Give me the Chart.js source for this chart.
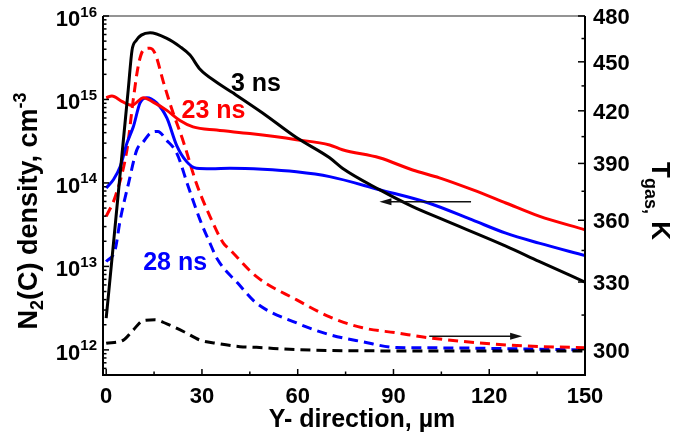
<!DOCTYPE html>
<html>
<head>
<meta charset="utf-8">
<script src="https://cdn.jsdelivr.net/npm/chart.js@4.4.1/dist/chart.umd.min.js"></script>
<style>
  html, body { margin: 0; padding: 0; background: #fff; }
  #wrap { position: relative; width: 688px; height: 443px; }
</style>
</head>
<body>
<div id="wrap"><canvas id="chart_n2c_tgas"></canvas></div>
<script>
// Y- direction, um  /  N2(C) density, cm-3 (solid)
var x3ns = [0, 2.5, 5, 6.9, 8.1, 9.4, 11, 13.75, 19, 23.1, 26.25, 29.4, 34.7, 39.7, 49, 59.6, 70, 74, 85.6, 96, 105, 125.2, 135.6, 150];
var n3ns = [2.4e12, 2.3e13, 2.3e14, 1.3e15, 3.9e15, 5.1e15, 5.9e15, 6.3e15, 5.4e15, 4.3e15, 3.4e15, 2.3e15, 1.6e15, 1.2e15, 6.9e14, 3.5e14, 2.0e14, 1.5e14, 8.3e13, 5.2e13, 3.7e13, 1.75e13, 1.15e13, 6.5e12];

var x23ns = [0, 1.8, 4.9, 8, 11.7, 14.7, 19, 23.1, 27.2, 34.6, 45, 59.6, 70, 74, 85.6, 96, 104.4, 114.7, 125.2, 135.6, 150];
var n23ns = [1.05e15, 1.1e15, 9.5e14, 8.5e14, 1.05e15, 9.3e14, 7.4e14, 5.6e14, 4.7e14, 4.3e14, 3.9e14, 3.3e14, 2.85e14, 2.5e14, 2.0e14, 1.43e14, 1.15e14, 8.3e13, 5.75e13, 4.0e13, 2.75e13];

var x28ns = [0, 2.3, 4.4, 6.5, 8.5, 10.6, 12.7, 15.8, 19, 22.1, 25.2, 28.3, 33, 38.75, 49, 59.6, 70, 85.6, 101, 114.7, 125.2, 135.6, 150];
var n28ns = [8.7e13, 1.1e14, 1.57e14, 3.0e14, 4.7e14, 9.1e14, 1.05e15, 9.1e14, 6.0e14, 2.8e14, 1.8e14, 1.5e14, 1.48e14, 1.5e14, 1.46e14, 1.36e14, 1.19e14, 8.3e13, 5.75e13, 3.6e13, 2.5e13, 1.9e13, 1.35e13];

// Tgas, K (dashed)
var xT3ns = [0, 5.4, 8.5, 11.65, 15.3, 19, 24.2, 29.4, 34.6, 41.9, 47.1, 59.7, 91, 150];
var t3ns = [302.7, 304.1, 308.5, 312.6, 312.9, 311.1, 307.8, 304.1, 302.7, 301.3, 301, 300, 299.5, 299.5];

var xT23ns = [0, 2.8, 6.5, 8.5, 10.1, 11.65, 13.75, 15.3, 17.9, 20.5, 24.2, 28.3, 32.5, 36.7, 38.75, 47.1, 59.7, 70, 80.3, 91, 101, 125.3, 150];
var t23ns = [362, 372, 397.5, 427, 448, 457.5, 458.7, 455.4, 437.5, 421.4, 402, 379, 362, 348.6, 345.4, 332.5, 321.8, 314.2, 309.4, 307.2, 305.1, 302, 300.8];

var xT28ns = [0, 2.8, 4.4, 7.0, 9.6, 11.65, 13.75, 16.2, 18.9, 22.1, 25.7, 29.4, 32.5, 34.9, 41.2, 47.1, 59.7, 70, 80.3, 91, 101, 150];
var t28ns = [339.6, 345.4, 360.2, 379.2, 397.5, 402.1, 406.9, 408, 403, 395.7, 377.5, 360.2, 348.6, 340.6, 329.5, 320.3, 311.5, 306.4, 303.4, 300.9, 300.8, 299.9];

// axes
var xTicks = [0, 30, 60, 90, 120, 150];
var xMinorTicks = [15, 45, 75, 105, 135];
var tTicks = [300, 330, 360, 390, 420, 450, 480];
var tMinorTicks = [315, 345, 375, 405, 435, 465];
var nDecades = [12, 13, 14, 15, 16];

// curve labels and arrows, placed in data coordinates
var labels = [
  { text: '3 ns', color: '#000000', x: 46.9, y: 1.6e15 },
  { text: '23 ns', color: '#ff0000', x: 33.6, y: 7.7e14 },
  { text: '28 ns', color: '#0000ff', x: 21.6, y: 1.16e13 }
];
var arrowToDensity = { y: 5.97e13, from: 114.3, to: 85.6 };
var arrowToTemp = { y: 305.7, from: 101.2, to: 130.3 };

var FONT = '"Liberation Sans", Arial, sans-serif';

function pts(xs, ys) {
  return xs.map(function (x, i) { return { x: x, y: ys[i] }; });
}
function solid(label, xs, ys, color) {
  return { label: label, data: pts(xs, ys), yAxisID: 'yL', borderColor: color, borderWidth: 3,
    pointRadius: 0, fill: false, cubicInterpolationMode: 'monotone' };
}
function dashed(label, xs, ys, color) {
  return { label: label, data: pts(xs, ys), yAxisID: 'yR', borderColor: color, borderWidth: 3,
    borderDash: [10, 6], pointRadius: 0, fill: false, cubicInterpolationMode: 'monotone' };
}

function rich(ctx, parts, x, y) {
  var cx = x;
  parts.forEach(function (p) {
    ctx.font = 'bold ' + p.s + 'px ' + FONT;
    ctx.fillText(p.t, cx, y + (p.dy || 0));
    cx += ctx.measureText(p.t).width;
  });
}
function richWidth(ctx, parts) {
  var w = 0;
  parts.forEach(function (p) {
    ctx.font = 'bold ' + p.s + 'px ' + FONT;
    w += ctx.measureText(p.t).width;
  });
  return w;
}

var originAxes = {
  id: 'originAxes',
  afterDraw: function (chart) {
    var ctx = chart.ctx, a = chart.chartArea;
    var sx = chart.scales.x, sl = chart.scales.yL, sr = chart.scales.yR;
    ctx.save();

    // frame
    ctx.strokeStyle = '#707070';
    ctx.lineWidth = 1.5;
    ctx.beginPath(); ctx.moveTo(a.left, a.top); ctx.lineTo(a.right, a.top); ctx.stroke();
    ctx.strokeStyle = '#000';
    ctx.lineWidth = 2;
    ctx.beginPath();
    ctx.moveTo(a.left, a.top); ctx.lineTo(a.left, a.bottom);
    ctx.lineTo(a.right, a.bottom); ctx.lineTo(a.right, a.top);
    ctx.stroke();

    // inward ticks
    ctx.lineWidth = 1.5;
    function seg(x1, y1, x2, y2) { ctx.beginPath(); ctx.moveTo(x1, y1); ctx.lineTo(x2, y2); ctx.stroke(); }
    xTicks.forEach(function (v) { var p = sx.getPixelForValue(v); seg(p, a.bottom, p, a.bottom - 6); });
    xMinorTicks.forEach(function (v) { var p = sx.getPixelForValue(v); seg(p, a.bottom, p, a.bottom - 3.5); });
    tTicks.forEach(function (v) { var p = sr.getPixelForValue(v); seg(a.right, p, a.right - 7, p); });
    tMinorTicks.forEach(function (v) { var p = sr.getPixelForValue(v); seg(a.right, p, a.right - 3.5, p); });
    for (var d = 11; d <= 16; d++) {
      for (var m = 1; m <= 9; m++) {
        var v = m * Math.pow(10, d);
        if (v < sl.min || v > sl.max * 1.001) continue;
        var p = sl.getPixelForValue(v);
        seg(a.left, p, a.left + (m === 1 ? 6 : 3.5), p);
      }
    }

    // tick labels
    ctx.fillStyle = '#000';
    ctx.textBaseline = 'alphabetic';
    ctx.font = 'bold 22px ' + FONT;
    ctx.textAlign = 'center';
    xTicks.forEach(function (v) { ctx.fillText(String(v), sx.getPixelForValue(v), a.bottom + 28); });
    ctx.textAlign = 'left';
    tTicks.forEach(function (v) { ctx.fillText(String(v), a.right + 8, sr.getPixelForValue(v) + 8); });
    nDecades.forEach(function (e) {
      var p = sl.getPixelForValue(Math.pow(10, e));
      ctx.font = 'bold 15px ' + FONT;
      var ws = ctx.measureText(String(e)).width;
      ctx.font = 'bold 22px ' + FONT;
      var wb = ctx.measureText('10').width;
      var xr = a.left - 6;
      ctx.fillText('10', xr - ws - wb, p + 10);
      ctx.font = 'bold 15px ' + FONT;
      ctx.fillText(String(e), xr - ws, p + 0.5);
    });

    // axis titles
    ctx.font = 'bold 25px ' + FONT;
    ctx.textAlign = 'center';
    ctx.fillText('Y- direction, \u00b5m', 362, a.bottom + 52);
    ctx.textAlign = 'left';

    var leftTitle = [{ t: 'N', s: 27 }, { t: '2', s: 18, dy: 6 }, { t: '(C) density, cm', s: 27 }, { t: '-3', s: 18, dy: -11 }];
    var lw = richWidth(ctx, leftTitle);
    ctx.save();
    ctx.translate(37, 211 + lw / 2);
    ctx.rotate(-Math.PI / 2);
    rich(ctx, leftTitle, 0, 0);
    ctx.restore();

    var rightTitle = [{ t: 'T', s: 26 }, { t: 'gas,', s: 18, dy: 7 }, { t: ' K', s: 26 }];
    var rw = richWidth(ctx, rightTitle);
    ctx.save();
    ctx.translate(652, 201 - rw / 2);
    ctx.rotate(Math.PI / 2);
    rich(ctx, rightTitle, 0, 0);
    ctx.restore();

    // curve labels
    ctx.font = 'bold 25px ' + FONT;
    ctx.textAlign = 'center';
    labels.forEach(function (l) {
      ctx.fillStyle = l.color;
      ctx.fillText(l.text, sx.getPixelForValue(l.x), sl.getPixelForValue(l.y) + 9);
    });

    // arrows
    function arrow(x1, x2, y) {
      var dir = x2 > x1 ? 1 : -1;
      ctx.strokeStyle = '#111'; ctx.fillStyle = '#111'; ctx.lineWidth = 1.5;
      seg(x1, y, x2 - dir * 10, y);
      ctx.beginPath();
      ctx.moveTo(x2, y); ctx.lineTo(x2 - dir * 12, y - 3.5); ctx.lineTo(x2 - dir * 12, y + 3.5);
      ctx.closePath(); ctx.fill();
    }
    var ya = sl.getPixelForValue(arrowToDensity.y);
    arrow(sx.getPixelForValue(arrowToDensity.from), sx.getPixelForValue(arrowToDensity.to), ya);
    var yb = sr.getPixelForValue(arrowToTemp.y);
    arrow(sx.getPixelForValue(arrowToTemp.from), sx.getPixelForValue(arrowToTemp.to), yb);

    ctx.restore();
  }
};

function hiddenAxis(extra) {
  var base = { display: true, grid: { display: false, drawTicks: false }, border: { display: false }, ticks: { display: false } };
  return Object.assign(base, extra);
}

var chart_n2c_tgas = new Chart(document.getElementById('chart_n2c_tgas'), {
  type: 'line',
  data: {
    datasets: [
      solid('3 ns', x3ns, n3ns, '#000000'),
      solid('23 ns', x23ns, n23ns, '#ff0000'),
      solid('28 ns', x28ns, n28ns, '#0000ff'),
      dashed('3 ns T', xT3ns, t3ns, '#000000'),
      dashed('23 ns T', xT23ns, t23ns, '#ff0000'),
      dashed('28 ns T', xT28ns, t28ns, '#0000ff')
    ]
  },
  options: {
    animation: false,
    responsive: true,
    maintainAspectRatio: false,
    layout: { padding: { top: 16, left: 0, right: 0, bottom: 0 } },
    plugins: { legend: { display: false }, tooltip: { enabled: false }, title: { display: false } },
    scales: {
      x: hiddenAxis({ type: 'linear', min: -1, max: 150, afterFit: function (s) { s.height = 68; } }),
      yL: hiddenAxis({ type: 'logarithmic', position: 'left', min: 5e11, max: 1e16, afterFit: function (s) { s.width = 103; } }),
      yR: hiddenAxis({ type: 'logarithmic', position: 'right', min: 289.5, max: 480, afterFit: function (s) { s.width = 103; } })
    }
  },
  plugins: [originAxes]
});
</script>
</body>
</html>
